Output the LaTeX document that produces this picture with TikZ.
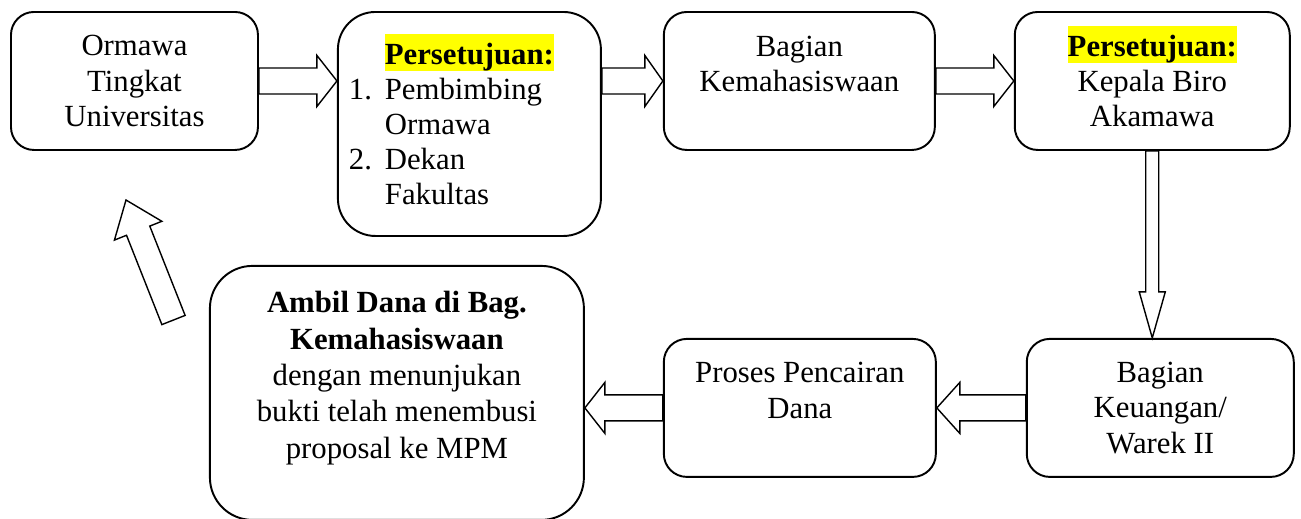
\documentclass[tikz,border=0pt]{standalone}
\usepackage{fontspec}
\setmainfont{Liberation Serif}
\usepackage{xcolor}
\usetikzlibrary{positioning,calc}
\definecolor{Ink}{HTML}{000000}
\definecolor{Marker}{HTML}{FFFF00}
\newcommand{\marked}[1]{\smash{{\setlength{\fboxsep}{0pt}\colorbox{Marker}{\vrule height 17pt depth 3.5pt width 0pt\textbf{#1}}}}\vphantom{\textbf{#1}}}
% block arrow: tail, tip, half shaft, half head, head length
\newcommand{\blockarrow}[5]{%
  \coordinate (ba-s) at (#1);
  \coordinate (ba-t) at (#2);
  \coordinate (ba-n) at ($(ba-t)!#5!(ba-s)$);
  \draw[blockarr] ($(ba-s)!#3!90:(ba-t)$) -- ($(ba-n)!#3!-90:(ba-s)$) -- ($(ba-n)!#4!-90:(ba-s)$) -- (ba-t)
    -- ($(ba-n)!#4!90:(ba-s)$) -- ($(ba-n)!#3!90:(ba-s)$) -- ($(ba-s)!#3!-90:(ba-t)$) -- cycle;}
\tikzset{
  box/.style={draw=Ink,fill=white,rounded corners=0.46cm,line width=1.1pt,minimum height=2.76cm,align=center,font=\fontsize{17.5}{20}\selectfont,text=Ink,inner sep=0pt},
  listbox/.style={box,rounded corners=0.75cm,minimum width=5.26cm,minimum height=4.48cm,text width=4.82cm,inner xsep=0.22cm,align=left},
  bigbox/.style={box,rounded corners=0.85cm,font=\fontsize{17.5}{20.7}\selectfont},
  blockarr/.style={draw=Ink,fill=white,line width=0.8pt,line join=miter}
}

\begin{document}
\begin{tikzpicture}
  \useasboundingbox (0,0) rectangle (26.02,-10.36);
  \node[box,minimum width=4.94cm,anchor=north west] (b1) at (0.2,-0.22) {Ormawa\\Tingkat\\Universitas};
  \node[listbox,right=1.56cm of b1.north east,anchor=north west] (b2) {\makebox[\hsize]{\marked{Persetujuan:}}\\
    \makebox[0.72cm][l]{1.}Pembimbing\\\hspace*{0.72cm}Ormawa\\
    \makebox[0.72cm][l]{2.}Dekan\\\hspace*{0.72cm}Fakultas};
  \node[box,minimum width=5.42cm,right=1.22cm of b2.north east,anchor=north west] (b3) {Bagian\\Kemahasiswaan\\\mbox{}};
  \node[box,minimum width=5.5cm,right=1.56cm of b3.north east,anchor=north west] (b4) {\marked{Persetujuan:}\\Kepala Biro\\Akamawa};
  \node[box,minimum width=5.34cm,below=3.74cm of b4.south east,anchor=north east,xshift=0.08cm] (b5) {Bagian\\Keuangan/\\Warek II};
  \node[box,minimum width=5.44cm,left=1.78cm of b5] (b6) {Proses Pencairan\\Dana\\\mbox{}};
  \node[bigbox,minimum width=7.48cm,minimum height=5.08cm,left=1.56cm of b6,yshift=0.3cm] (b7) {\textbf{Ambil Dana di Bag.}\\\textbf{Kemahasiswaan}\\dengan menunjukan\\bukti telah menembusi\\proposal ke MPM\\\mbox{}};
  \coordinate (up1) at (3.47,-6.4);
  \coordinate (up2) at (2.52,-4.0);
  \blockarrow{b1.east}{b1.east -| b2.west}{0.26cm}{0.51cm}{0.4cm}
  \blockarrow{b3.west -| b2.east}{b3.west}{0.26cm}{0.51cm}{0.36cm}
  \blockarrow{b3.east}{b4.west}{0.26cm}{0.51cm}{0.4cm}
  \blockarrow{b4.south}{b4.south |- b5.north}{0.13cm}{0.26cm}{0.92cm}
  \blockarrow{b5.west}{b5.west -| b6.east}{0.26cm}{0.51cm}{0.46cm}
  \blockarrow{b6.west}{b6.west -| b7.east}{0.26cm}{0.51cm}{0.4cm}
  \blockarrow{up1}{up2}{0.25cm}{0.51cm}{0.66cm}
\end{tikzpicture}
\end{document}
